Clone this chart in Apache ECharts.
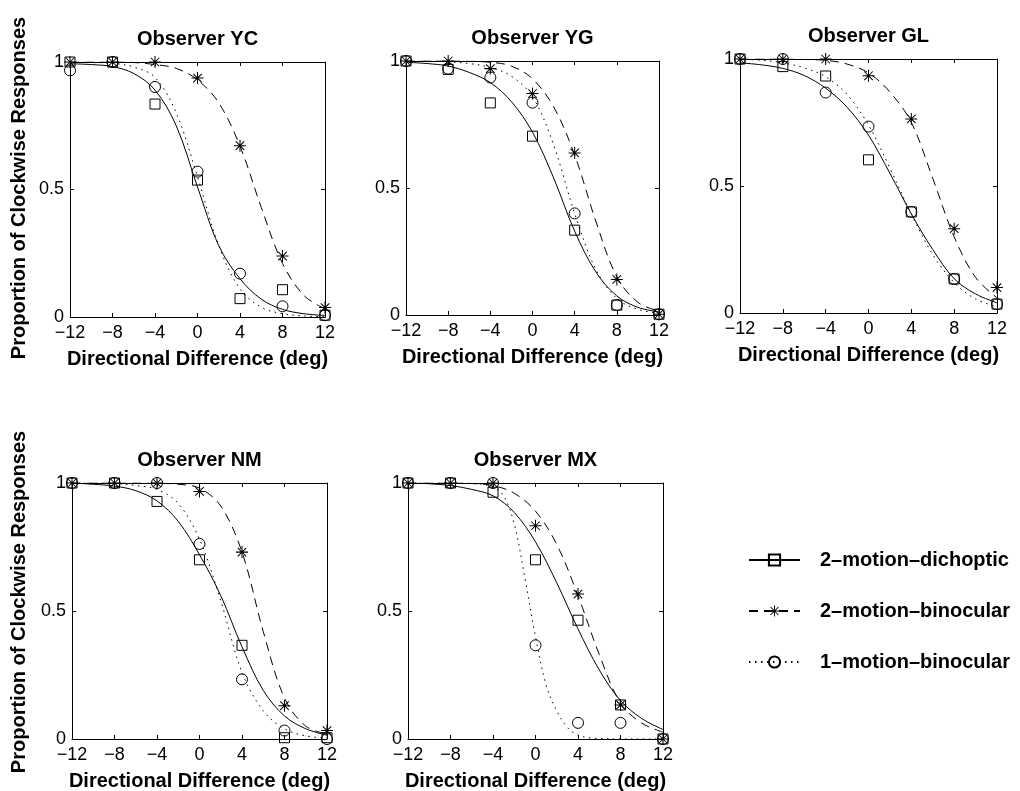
<!DOCTYPE html>
<html>
<head>
<meta charset="utf-8">
<script src="https://cdn.jsdelivr.net/npm/echarts@6/dist/echarts.min.js"></script>
<style>
  html, body { margin: 0; padding: 0; background: #fff; }
  #main { width: 1020px; height: 791px; }
</style>
</head>
<body>
<div id="main"></div>
<script>
// directional differences tested (deg)
const xPoints = [-12, -8, -4, 0, 4, 8, 12];
// x grid the fitted curves were read at
const fitX = [-12, -10, -8, -6, -4, -2, 0, 2, 4, 6, 8, 10, 12];
const fitXFine = [-12, -10, -8, -6, -5, -4, -3, -2, -1, 0, 1, 2, 3, 4, 5, 6, 8, 10, 12];

const observers = ['YC', 'YG', 'GL', 'NM', 'MX'];
const seriesNames = ['2–motion–dichoptic', '2–motion–binocular', '1–motion–binocular'];

// observer YC
const ycDich = [1.0, 1.0, 0.835, 0.537, 0.072, 0.107, 0.007];
const ycBin2 = [1.0, 1.0, 1.0, 0.937, 0.672, 0.239, 0.037];
const ycBin1 = [0.967, 1.0, 0.902, 0.570, 0.170, 0.042, 0.007];
const ycDichFit = [0.993, 0.99, 0.982, 0.955, 0.89, 0.75, 0.51, 0.28, 0.15, 0.07, 0.03, 0.013, 0.006];
const ycBin2Fit = [1.0, 1.0, 1.0, 0.998, 0.99, 0.975, 0.93, 0.84, 0.67, 0.43, 0.21, 0.085, 0.032];
const ycBin1Fit = [1.0, 0.998, 0.995, 0.98, 0.94, 0.80, 0.55, 0.28, 0.11, 0.038, 0.013, 0.004, 0.001];

// observer YG
const ygDich = [1.0, 0.967, 0.835, 0.704, 0.334, 0.039, 0.003];
const ygBin2 = [1.0, 1.0, 0.97, 0.872, 0.638, 0.14, 0.003];
const ygBin1 = [1.0, 0.97, 0.935, 0.836, 0.40, 0.039, 0.003];
const ygDichFit = [0.995, 0.99, 0.98, 0.955, 0.915, 0.84, 0.72, 0.54, 0.33, 0.17, 0.075, 0.03, 0.012];
const ygBin2Fit = [1.0, 1.0, 1.0, 0.999, 0.995, 0.98, 0.93, 0.82, 0.63, 0.37, 0.15, 0.05, 0.015];
const ygBin1Fit = [1.0, 1.0, 0.997, 0.99, 0.975, 0.94, 0.86, 0.67, 0.40, 0.18, 0.065, 0.022, 0.007];

// observer GL
const glDich = [1.0, 0.97, 0.933, 0.603, 0.398, 0.134, 0.035];
const glBin2 = [1.0, 1.0, 1.0, 0.934, 0.764, 0.332, 0.10];
const glBin1 = [1.0, 1.0, 0.868, 0.734, 0.398, 0.134, 0.035];
const glDichFit = [0.985, 0.977, 0.963, 0.935, 0.885, 0.81, 0.70, 0.55, 0.39, 0.25, 0.135, 0.075, 0.04];
const glBin2Fit = [1.0, 1.0, 1.0, 0.998, 0.995, 0.98, 0.945, 0.87, 0.75, 0.53, 0.30, 0.14, 0.06];
const glBin1Fit = [1.0, 0.995, 0.985, 0.965, 0.93, 0.86, 0.74, 0.57, 0.39, 0.23, 0.12, 0.055, 0.025];

// observer NM
const nmDich = [1.0, 1.0, 0.928, 0.70, 0.366, 0.005, 0.005];
const nmBin2 = [1.0, 1.0, 1.0, 0.967, 0.73, 0.13, 0.033];
const nmBin1 = [1.0, 1.0, 1.0, 0.762, 0.233, 0.033, 0.0];
const nmDichFit = [1.0, 0.995, 0.988, 0.97, 0.93, 0.85, 0.72, 0.56, 0.36, 0.19, 0.09, 0.04, 0.015];
const nmBin2Fit = [1.0, 1.0, 1.0, 1.0, 0.999, 0.995, 0.98, 0.91, 0.73, 0.42, 0.16, 0.05, 0.02];
const nmBin1Fit = [1.0, 1.0, 0.998, 0.99, 0.975, 0.92, 0.78, 0.54, 0.26, 0.11, 0.04, 0.012, 0.004];

// observer MX
const mxDich = [1.0, 1.0, 0.964, 0.70, 0.464, 0.133, 0.0];
const mxBin2 = [1.0, 1.0, 1.0, 0.833, 0.566, 0.133, 0.0];
const mxBin1 = [1.0, 1.0, 1.0, 0.366, 0.063, 0.063, 0.0];
const mxDichFit = [1.0, 0.997, 0.99, 0.975, 0.95, 0.885, 0.77, 0.61, 0.43, 0.27, 0.15, 0.08, 0.037];
const mxBin2Fit = [1.0, 1.0, 1.0, 0.998, 0.99, 0.96, 0.89, 0.76, 0.56, 0.33, 0.14, 0.062, 0.027];
const mxBin1Fit = [1.0, 1.0, 1.0, 0.998, 0.995, 0.985, 0.95, 0.84, 0.63, 0.40, 0.21, 0.11, 0.045, 0.015, 0.005, 0.002, 0.0, 0.0, 0.0];

const panels = [
  { dich: ycDich, bin2: ycBin2, bin1: ycBin1, dichFit: ycDichFit, bin2Fit: ycBin2Fit, bin1Fit: ycBin1Fit },
  { dich: ygDich, bin2: ygBin2, bin1: ygBin1, dichFit: ygDichFit, bin2Fit: ygBin2Fit, bin1Fit: ygBin1Fit },
  { dich: glDich, bin2: glBin2, bin1: glBin1, dichFit: glDichFit, bin2Fit: glBin2Fit, bin1Fit: glBin1Fit },
  { dich: nmDich, bin2: nmBin2, bin1: nmBin1, dichFit: nmDichFit, bin2Fit: nmBin2Fit, bin1Fit: nmBin1Fit },
  { dich: mxDich, bin2: mxBin2, bin1: mxBin1, dichFit: mxDichFit, bin2Fit: mxBin2Fit, bin1Fit: mxBin1Fit, bin1X: fitXFine }
];

// plot boxes: left, top, width, height
const boxes = [
  [70, 62, 255, 255],
  [406, 61, 253, 254],
  [740, 59, 257, 254],
  [72, 483, 255, 256],
  [408, 483, 255, 256]
];

const FONT = '"Liberation Sans", Arial, Helvetica, sans-serif';
const STAR = 'path://M9.15,0L10.85,0L10.85,20L9.15,20Z M0,9.15L20,9.15L20,10.85L0,10.85Z ' +
  'M3.5,2.3L17.7,16.5L16.5,17.7L2.3,3.5Z M16.5,2.3L17.7,3.5L3.5,17.7L2.3,16.5Z';

const styles = [
  { symbol: 'rect', size: 10, line: 'solid', fill: 'rgba(0,0,0,0)', border: 1 },
  { symbol: STAR, size: 12, line: [9, 6], fill: '#000', border: 0 },
  { symbol: 'circle', size: 11, line: [1.5, 4.5], fill: 'rgba(0,0,0,0)', border: 1 }
];

const pairs = (xs, ys) => ys.map((y, i) => [xs[i], y]);
const fmtX = v => (v < 0 ? '\u2212' + (-v) : String(v));

const grid = [], xAxis = [], yAxis = [], series = [], graphic = [];

boxes.forEach(([left, top, width, height], i) => {
  grid.push({ left, top, width, height, outerBoundsMode: 'none' });
  const tick = { show: true, inside: true, length: 4, lineStyle: { color: '#000', width: 1 } };
  const line = { show: true, onZero: false, lineStyle: { color: '#000', width: 1 } };
  xAxis.push({
    type: 'value', gridIndex: i, min: -12, max: 12, interval: 4, position: 'bottom',
    axisLine: line, axisTick: tick, splitLine: { show: false },
    axisLabel: { color: '#000', fontSize: 18, fontFamily: FONT, margin: 7, formatter: fmtX },
    name: 'Directional Difference (deg)', nameLocation: 'middle', nameGap: 32,
    nameTextStyle: { color: '#000', fontSize: 20, fontWeight: 'bold', fontFamily: FONT }
  });
  xAxis.push({
    type: 'value', gridIndex: i, min: -12, max: 12, interval: 4, position: 'top',
    axisLine: line, axisTick: tick, splitLine: { show: false }, axisLabel: { show: false }
  });
  yAxis.push({
    type: 'value', gridIndex: i, min: 0, max: 1, interval: 0.5, position: 'left',
    axisLine: line, axisTick: tick, splitLine: { show: false },
    axisLabel: { color: '#000', fontSize: 18, fontFamily: FONT, margin: 6 }
  });
  yAxis.push({
    type: 'value', gridIndex: i, min: 0, max: 1, interval: 0.5, position: 'right',
    axisLine: line, axisTick: tick, splitLine: { show: false }, axisLabel: { show: false }
  });

  const p = panels[i];
  const fits = [[fitX, p.dichFit], [fitX, p.bin2Fit], [p.bin1X || fitX, p.bin1Fit]];
  const marks = [p.dich, p.bin2, p.bin1];
  fits.forEach(([xs, ys], k) => {
    series.push({
      type: 'line', xAxisIndex: 2 * i, yAxisIndex: 2 * i, data: pairs(xs, ys),
      smooth: 0.35, showSymbol: false, symbol: 'none', silent: true,
      lineStyle: { color: '#000', width: 1, type: styles[k].line }
    });
  });
  marks.forEach((ys, k) => {
    const s = styles[k];
    series.push({
      type: 'scatter', xAxisIndex: 2 * i, yAxisIndex: 2 * i, data: pairs(xPoints, ys),
      symbol: s.symbol, symbolSize: s.size, silent: true, clip: false,
      itemStyle: { color: s.fill, borderColor: '#000', borderWidth: s.border, opacity: 1 }
    });
  });

  graphic.push({
    type: 'text', x: left + width / 2, y: top - 23,
    style: { text: 'Observer ' + observers[i], fill: '#000', fontSize: 20, fontWeight: 'bold',
      fontFamily: FONT, align: 'center', verticalAlign: 'middle' }
  });
});

// y labels of the two rows
[188, 602].forEach(cy => {
  graphic.push({
    type: 'text', x: 19, y: cy, rotation: Math.PI / 2,
    style: { text: 'Proportion of Clockwise Responses', fill: '#000', fontSize: 20, fontWeight: 'bold',
      fontFamily: FONT, align: 'center', verticalAlign: 'middle' }
  });
});

// series used only for the legend
seriesNames.forEach((name, k) => {
  const s = styles[k];
  series.push({
    name, type: 'line', xAxisIndex: 0, yAxisIndex: 0, data: [],
    symbol: s.symbol, symbolSize: s.size,
    lineStyle: { color: '#000', width: 1, type: s.line },
    itemStyle: { color: s.fill, borderColor: '#000', borderWidth: s.border }
  });
});

const chart = echarts.init(document.getElementById('main'), null, { renderer: 'canvas' });
chart.setOption({
  backgroundColor: '#fff',
  animation: false,
  grid, xAxis, yAxis, series, graphic,
  legend: {
    orient: 'vertical', left: 743, top: 545, itemWidth: 51, itemHeight: 14, itemGap: 31,
    selectedMode: false, data: seriesNames,
    textStyle: { color: '#000', fontSize: 20, fontWeight: 'bold', fontFamily: FONT, lineHeight: 20, padding: [0, 0, 0, 15] }
  }
});
</script>
</body>
</html>
